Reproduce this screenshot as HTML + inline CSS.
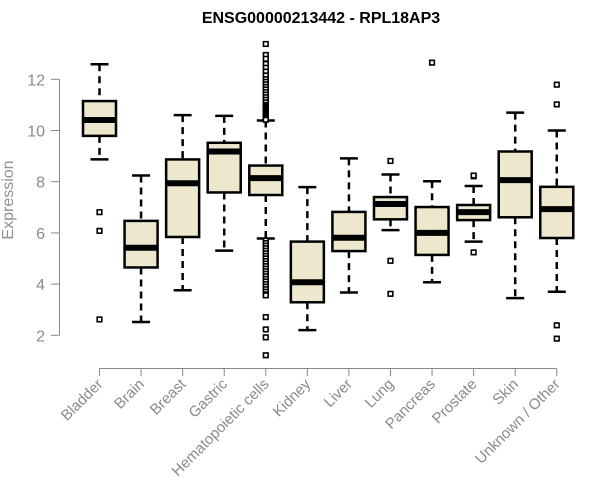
<!DOCTYPE html>
<html><head><meta charset="utf-8"><style>
body{margin:0;background:#fff}
svg{display:block;font-family:"Liberation Sans",Arial,sans-serif}
</style></head><body>
<svg id="chart" width="600" height="500" viewBox="0 0 600 500" xmlns="http://www.w3.org/2000/svg">
<text x="321" y="23" text-anchor="middle" font-size="16" font-weight="bold" fill="#000">ENSG00000213442 - RPL18AP3</text>
<text transform="translate(13,200) rotate(-90)" text-anchor="middle" font-size="16" fill="#909090">Expression</text>
<g id="axes"></g><g id="marks"></g>
</svg>
<script>
const categories=["Bladder","Brain","Breast","Gastric","Hematopoietic cells","Kidney","Liver","Lung","Pancreas","Prostate","Skin","Unknown / Other"];
const whiskerLow=[8.87,2.52,3.76,5.31,5.78,2.2,3.67,6.11,4.07,5.66,3.45,3.7];
const q1=[9.79,4.65,5.84,7.58,7.48,3.29,5.29,6.53,5.14,6.5,6.61,5.8];
const medians=[10.41,5.42,7.94,9.18,8.14,4.07,5.81,7.13,6.0,6.81,8.06,6.93];
const q3=[11.15,6.47,8.87,9.52,8.63,5.66,6.82,7.4,7.01,7.09,9.18,7.8];
const whiskerHigh=[12.59,8.24,10.6,10.57,10.39,7.79,8.91,8.28,8.02,7.83,10.7,10.0];
const outliers=[[6.81,6.08,2.62],[],[],[],
[13.38,12.95,12.8,12.6,12.45,12.3,12.15,12.0,11.9,11.8,11.7,11.6,11.5,11.4,11.3,11.2,11.1,11.0,10.95,10.9,10.85,10.8,10.75,10.7,10.65,10.6,10.55,10.5,10.45,10.42,
5.7,5.6,5.5,5.4,5.3,5.2,5.1,5.0,4.9,4.8,4.7,4.6,4.5,4.4,4.3,4.2,4.1,4.0,3.9,3.8,3.7,3.6,3.56,2.71,2.23,1.92,1.22],
[],[],[8.81,4.91,3.62],[12.65],[8.21,8.24,5.24],[],[11.79,11.02,2.39,1.87]];
const yTicks=[2,4,6,8,10,12];
const NS="http://www.w3.org/2000/svg";
const y=v=>79.3+(12-v)*25.6;
const x=i=>99.5+i*41.57;
function el(tag,attrs,parent){const e=document.createElementNS(NS,tag);for(const k in attrs)e.setAttribute(k,attrs[k]);parent.appendChild(e);return e;}
const axes=document.getElementById('axes'),marks=document.getElementById('marks');
const ya=el('line',{x1:59.5,x2:59.5,y1:y(12),y2:y(2),stroke:'#888'},axes);


yTicks.forEach(t=>{
 const tk=el('line',{x1:51,x2:59.5,y1:y(t),y2:y(t),stroke:'#888'},axes);
 
 
 const tl=el('text',{x:45,y:y(t)+6,'text-anchor':'end','font-size':16,fill:'#8a8a8a'},axes);
 tl.textContent=t;
 
 
});
const xa=el('line',{x1:x(0),x2:x(categories.length-1),y1:368.5,y2:368.5,stroke:'#888'},axes);


categories.forEach((c,i)=>{
 const cx=x(i);
 const tk=el('line',{x1:cx,x2:cx,y1:368.5,y2:376,stroke:'#888'},axes);
 
 
 const tl=el('text',{transform:`translate(${cx+4},${385}) rotate(-45)`,'text-anchor':'end','font-size':15,fill:'#8a8a8a'},axes);
 tl.textContent=c;
 
 
 const g=el('g',{},marks);
 
 
 const hw=16.5;
 el('line',{x1:cx,x2:cx,y1:y(whiskerHigh[i]),y2:y(q3[i]),stroke:'#000','stroke-width':2.5,'stroke-dasharray':'7,5'},g);
 el('line',{x1:cx,x2:cx,y1:y(q1[i]),y2:y(whiskerLow[i]),stroke:'#000','stroke-width':2.5,'stroke-dasharray':'7,5'},g);
 el('line',{x1:cx-9,x2:cx+9,y1:y(whiskerHigh[i]),y2:y(whiskerHigh[i]),stroke:'#000','stroke-width':2.5},g);
 el('line',{x1:cx-9,x2:cx+9,y1:y(whiskerLow[i]),y2:y(whiskerLow[i]),stroke:'#000','stroke-width':2.5},g);
 el('rect',{x:cx-hw,y:y(q3[i]),width:hw*2,height:y(q1[i])-y(q3[i]),fill:'#ede7cd',stroke:'#000','stroke-width':2.5},g);
 el('line',{x1:cx-hw,x2:cx+hw,y1:y(medians[i]),y2:y(medians[i]),stroke:'#000','stroke-width':6},g);
 outliers[i].forEach(v=>{
  const o=el('rect',{x:cx-2.3,y:y(v)-2.3,width:4.6,height:4.6,fill:'#fff',stroke:'#000','stroke-width':1.6},g);
  
  
 });
});
</script>
</body></html>
